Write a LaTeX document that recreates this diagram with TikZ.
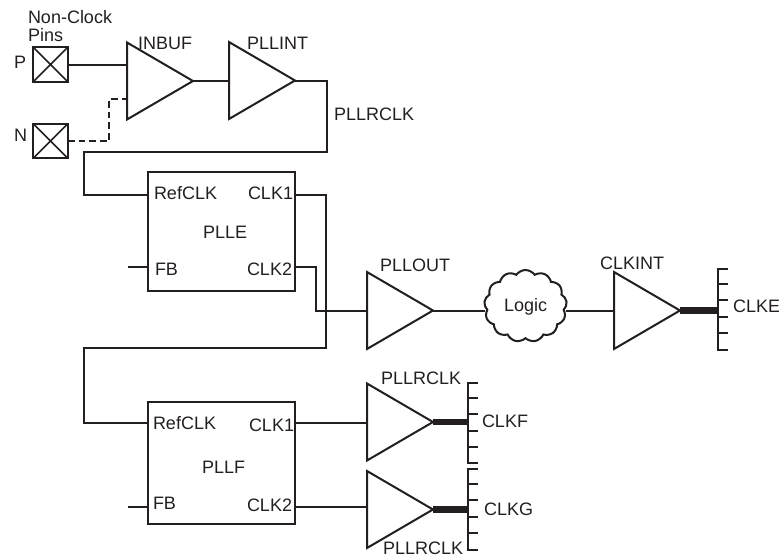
\documentclass[tikz,border=0pt]{standalone}
\usepackage{fontspec}
\setmainfont{Liberation Sans}
\usetikzlibrary{shapes.geometric,shapes.symbols}
\definecolor{ink}{HTML}{231F20}
\tikzset{
  x=0.75pt,y=-0.75pt,
  wire/.style={draw=ink,line width=1.5pt,line join=miter},
  dashwire/.style={wire,dash pattern=on 5pt off 3pt},
  busline/.style={draw=ink,line width=5.2pt},
  lbl/.style={anchor=base west,inner sep=0pt,outer sep=0pt,text=ink,font=\fontsize{13.5pt}{13.5pt}\selectfont},
  buf/.style={shape=isosceles triangle,isosceles triangle stretches=true,shape border rotate=0,
    draw=ink,line width=1.5pt,inner sep=0pt,outer sep=0pt,minimum height=49.5pt,minimum width=57.75pt,anchor=lower side},
  pll/.style={draw=ink,line width=1.5pt,inner sep=0pt,outer sep=0pt,minimum width=110.25pt,anchor=north west},
  pin/.style={draw=ink,line width=1.5pt,inner sep=0pt,outer sep=0pt,minimum width=26pt,minimum height=26pt,
    path picture={\draw[ink,line width=1.1pt] (path picture bounding box.north west)--(path picture bounding box.south east)
      (path picture bounding box.north east)--(path picture bounding box.south west);}},
  logiccloud/.style={shape=cloud,draw=ink,line width=1.5pt,inner sep=0pt,outer sep=0pt,cloud puffs=13,cloud puff arc=110,
    aspect=1.15,minimum width=62pt,minimum height=54pt},
}
\begin{document}
\begin{tikzpicture}
\useasboundingbox (0,0) rectangle (779,558);
% pins
\node[pin] (P) at (50.5,64.5) {};
\node[pin] (N) at (50.5,141) {};
% buffers
\node[buf] (inbuf) at (127,81) {};
\node[buf] (pllint) at (229,80.5) {};
\node[buf] (pllout) at (367,310.5) {};
\node[buf] (clkint) at (614,310.5) {};
\node[buf] (bufF) at (367,422) {};
\node[buf] (bufG) at (367,509.5) {};
% PLL blocks
\node[pll,minimum height=89.25pt] (plle) at (148,172) {};
\node[pll,minimum height=91.5pt] (pllf) at (148,402) {};
% cloud
\node[logiccloud] (logic) at (525.5,306) {};
% free ends
\coordinate (fbE) at (128,267);
\coordinate (fbF) at (128,507);
\coordinate (busE) at (718,310.5);
\coordinate (busF) at (468,422);
\coordinate (busG) at (468,509.5);
% connectors
\draw[wire] (P.east) -- (P.east -| inbuf.lower side);
\draw[dashwire] (N.east) -- (N.east -| 109,0) -- (109,99) -- (127,99);
\draw[wire] (inbuf.apex) -- (inbuf.apex -| pllint.lower side);
\draw[wire] (pllint.apex) -- (327,80.5) -- (327,152) -- (84,152) -- (84,195) -- (148,195);
\draw[wire] (plle.north east |- 0,195) -- (326,195) -- (326,348) -- (84,348) -- (84,423) -- (148,423);
\draw[wire] (plle.north east |- 0,267) -- (316,267) -- (316,310.5) -- (pllout.lower side);
\draw[wire] (fbE) -- (148,267);
\draw[wire] (fbF) -- (148,507);
\draw[wire] (pllf.north east |- 0,423) -- (367,423);
\draw[wire] (pllf.north east |- 0,507) -- (367,507);
\draw[wire] (pllout.apex) -- (logic.west |- pllout.apex);
\draw[wire] (logic.east |- clkint.lower side) -- (clkint.lower side);
\draw[busline] (clkint.apex) -- (busE);
\draw[busline] (bufF.apex) -- (busF);
\draw[busline] (bufG.apex) -- (busG);
% bus combs
\draw[wire] (728,269) -- (718,269) -- (718,350) -- (728,350);
\foreach \y in {284,300,317,333} \draw[wire] (718,\y) -- (728,\y);
\draw[wire] (478,383) -- (468,383) -- (468,463) -- (478,463);
\foreach \y in {398,414,431,447} \draw[wire] (468,\y) -- (478,\y);
\draw[wire] (478,469) -- (468,469) -- (468,550) -- (478,550);
\foreach \y in {484,500,517,533} \draw[wire] (468,\y) -- (478,\y);
% labels
\node[lbl] (t1) at (28,23) {Non-Clock};
\node[lbl] (t2) at (28,41) {Pins};
\node[lbl] (t3) at (14,68) {P};
\node[lbl] (t4) at (14,141) {N};
\node[lbl] (t5) at (138,49) {INBUF};
\node[lbl] (t6) at (247,49) {PLLINT};
\node[lbl] (t7) at (334,120) {PLLRCLK};
\node[lbl] (t8) at (154,199) {RefCLK};
\node[lbl] (t9) at (248,199) {CLK1};
\node[lbl] (t10) at (203,238) {PLLE};
\node[lbl] (t11) at (155,275) {FB};
\node[lbl] (t12) at (247,275) {CLK2};
\node[lbl] (t13) at (153,429) {RefCLK};
\node[lbl] (t14) at (249,431) {CLK1};
\node[lbl] (t15) at (202,473) {PLLF};
\node[lbl] (t16) at (153,509) {FB};
\node[lbl] (t17) at (247,511) {CLK2};
\node[lbl] (t18) at (380,271) {PLLOUT};
\node[lbl] (t19) at (600,269) {CLKINT};
\node[lbl] (t20) at (504,311) {Logic};
\node[lbl] (t21) at (733,312) {CLKE};
\node[lbl] (t22) at (381,384) {PLLRCLK};
\node[lbl] (t23) at (383,554) {PLLRCLK};
\node[lbl] (t24) at (482,427) {CLKF};
\node[lbl] (t25) at (484,515) {CLKG};
\end{tikzpicture}
\end{document}
